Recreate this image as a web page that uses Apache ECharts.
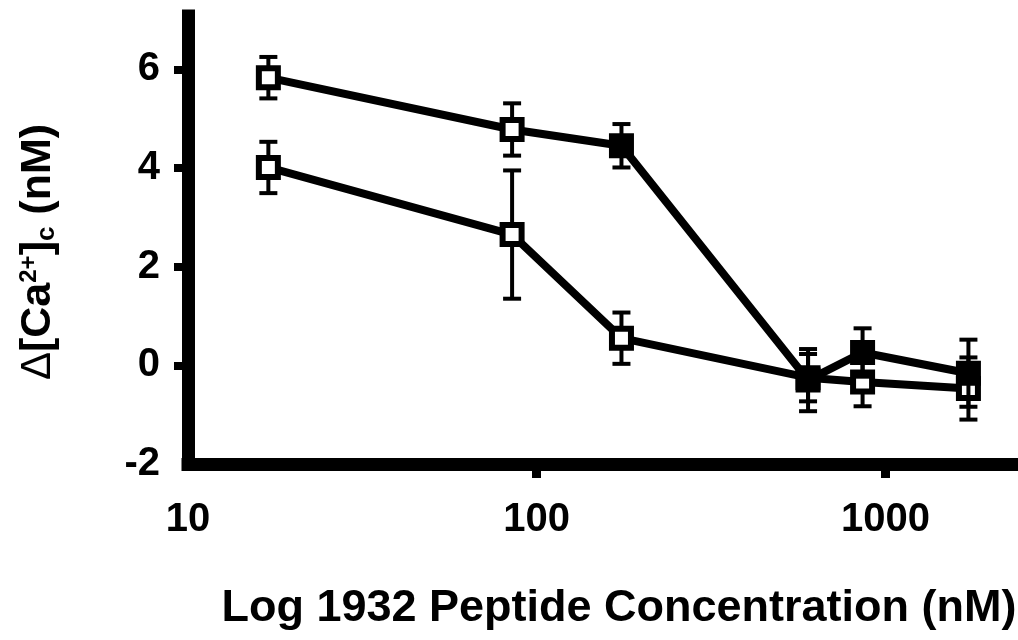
<!DOCTYPE html>
<html lang="en">
<head>
    <meta charset="UTF-8">
    <title>Peptide concentration vs Ca2+</title>
    <style>
        html, body { margin: 0; padding: 0; background: #fff; }
    </style>
</head>
<body>
<div id="chart" style="width: 1018px;height:640px;"></div>
<script src="https://cdn.jsdelivr.net/npm/echarts@6/dist/echarts.min.js"></script>
<script>
    // peptide concentration (nM)
    var conc = [17, 85, 175, 600, 860, 1730];
    // upper curve
    var upperMean = [5.83, 4.78, 4.45, -0.3, 0.26, -0.16];
    var upperErr = [0.42, 0.53, 0.44, 0.63, 0.49, 0.68];
    // lower curve
    var lowerMean = [4.01, 2.65, 0.55, -0.25, -0.34, -0.47];
    var lowerErr = [0.52, 1.3, 0.52, 0.48, 0.49, 0.63];
    var xLabels = [10, 100, 1000];
    var yLabels = [-2, 0, 2, 4, 6];

    var font = "'Liberation Sans', Arial, sans-serif";
    var filledFrom = 2;   // upper curve: markers from this index on are solid

    function pairs(ys) {
        var out = [];
        for (var i = 0; i < conc.length; i++) {
            out.push([conc[i], ys[i]]);
        }
        return out;
    }

    function errData(ys, es) {
        var out = [];
        for (var i = 0; i < conc.length; i++) {
            out.push([conc[i], ys[i], es[i]]);
        }
        return out;
    }

    // vertical error bar with caps
    function errorBar(params, api) {
        var x = api.value(0), y = api.value(1), e = api.value(2);
        var top = api.coord([x, y + e]);
        var bot = api.coord([x, y - e]);
        var half = 9;
        var st = { stroke: '#000', lineWidth: 4 };
        return {
            type: 'group',
            children: [
                { type: 'line', shape: { x1: top[0], y1: top[1], x2: bot[0], y2: bot[1] }, style: st },
                { type: 'line', shape: { x1: top[0] - half, y1: top[1], x2: top[0] + half, y2: top[1] }, style: st },
                { type: 'line', shape: { x1: bot[0] - half, y1: bot[1], x2: bot[0] + half, y2: bot[1] }, style: st }
            ]
        };
    }

    var upperData = pairs(upperMean).map(function (p, i) {
        return { value: p, itemStyle: { color: i >= filledFrom ? '#000' : '#fff' } };
    });

    var myChart = echarts.init(document.getElementById('chart'));
    myChart.setOption({
        animation: false,
        backgroundColor: '#fff',
        grid: { left: 188, right: 0, top: 16, bottom: 176, outerBoundsMode: 'none' },
        xAxis: {
            type: 'log',
            logBase: 10,
            min: 10,
            max: 2400,
            name: 'Log 1932 Peptide Concentration (nM)',
            nameLocation: 'middle',
            nameGap: 122,
            nameTextStyle: { color: '#000', fontFamily: font, fontWeight: 'bold', fontSize: 45, padding: [0, 0, 0, 32] },
            axisLine: { onZero: false, lineStyle: { color: '#000', width: 13, cap: 'square' } },
            axisTick: { length: 14, lineStyle: { color: '#000', width: 9 }, customValues: [100, 1000] },
            axisLabel: {
                color: '#000', fontFamily: font, fontWeight: 'bold', fontSize: 40, margin: 36,
                customValues: xLabels,
                formatter: function (v) { return String(Math.round(v)); }
            },
            splitLine: { show: false }
        },
        yAxis: {
            type: 'value',
            min: -2,
            max: 7.08,
            interval: 2,
            name: '{d|Δ}{b|[Ca}{sup|2+}{b|]}{sub|c}{b| (nM)}',
            nameLocation: 'middle',
            nameRotate: 90,
            nameGap: 128,
            nameTextStyle: {
                color: '#000',
                padding: [0, 24, 0, 0],
                rich: {
                    d: { fontFamily: font, fontSize: 42, color: '#000', verticalAlign: 'middle' },
                    b: { fontFamily: font, fontWeight: 'bold', fontSize: 43, color: '#000', verticalAlign: 'middle' },
                    sup: { fontFamily: font, fontWeight: 'bold', fontSize: 24, color: '#000', verticalAlign: 'top' },
                    sub: { fontFamily: font, fontWeight: 'bold', fontSize: 26, color: '#000', verticalAlign: 'bottom' }
                }
            },
            axisLine: { lineStyle: { color: '#000', width: 13, cap: 'square' } },
            axisTick: { length: 14, lineStyle: { color: '#000', width: 8 }, customValues: [0, 2, 4, 6] },
            axisLabel: {
                color: '#000', fontFamily: font, fontWeight: 'bold', fontSize: 40, margin: 28,
                customValues: yLabels
            },
            splitLine: { show: false }
        },
        series: [
            {
                name: 'lowerErr',
                type: 'custom',
                renderItem: errorBar,
                encode: { x: 0, y: 1 },
                data: errData(lowerMean, lowerErr),
                z: 1
            },
            {
                name: 'lower',
                type: 'line',
                data: pairs(lowerMean),
                symbol: 'rect',
                symbolSize: 19,
                lineStyle: { color: '#000', width: 8 },
                itemStyle: { color: '#fff', borderColor: '#000', borderWidth: 6 },
                z: 2
            },
            {
                name: 'upperErr',
                type: 'custom',
                renderItem: errorBar,
                encode: { x: 0, y: 1 },
                data: errData(upperMean, upperErr),
                z: 3
            },
            {
                name: 'upper',
                type: 'line',
                data: upperData,
                symbol: 'rect',
                symbolSize: 19,
                lineStyle: { color: '#000', width: 8 },
                itemStyle: { color: '#fff', borderColor: '#000', borderWidth: 6 },
                z: 4
            }
        ]
    });
</script>
</body>
</html>
